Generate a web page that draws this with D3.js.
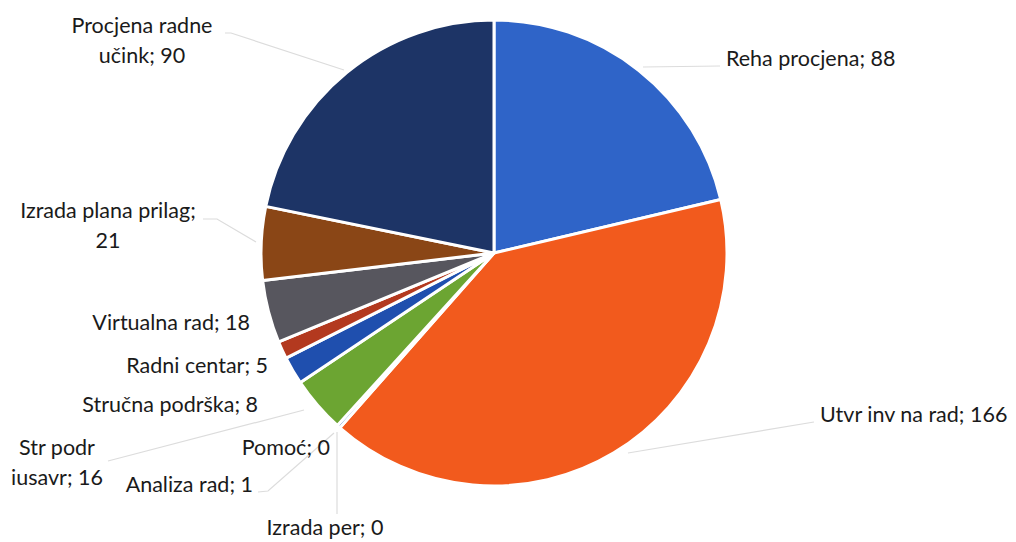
<!DOCTYPE html>
<html>
<head>
<meta charset="utf-8">
<script src="https://cdn.jsdelivr.net/npm/d3@7"></script>
<style>
  html, body { margin: 0; padding: 0; background: #ffffff; }
  svg { display: block; }
  text { font-family: Lato, "Open Sans", sans-serif; font-size: 21.5px; fill: #1a1a1a; }
</style>
</head>
<body>
<svg id="chart" width="1016" height="542"></svg>
<script>
// Data (clockwise from 12 o'clock)
const categories = ["Reha procjena", "Utvr inv na rad", "Izrada per", "Pomoć", "Analiza rad",
  "Str podr iusavr", "Stručna podrška", "Radni centar", "Virtualna rad", "Izrada plana prilag", "Procjena radne učink"];
const values = [88, 166, 0, 0, 1, 16, 8, 5, 18, 21, 90];
const labelLines = [
  ["Reha procjena; 88"],
  ["Utvr inv na rad; 166"],
  ["Izrada per; 0"],
  ["Pomoć; 0"],
  ["Analiza rad; 1"],
  ["Str podr", "iusavr; 16"],
  ["Stručna podrška; 8"],
  ["Radni centar; 5"],
  ["Virtualna rad; 18"],
  ["Izrada plana prilag;", "21"],
  ["Procjena radne", "učink; 90"]
];
const colors = ["#2f64c8", "#f25a1d", "#a5a5a5", "#ffc000", "#4472c4",
  "#6ca532", "#1f4fae", "#b3391f", "#57565e", "#8a4616", "#1d3466"];

// Label layout (presentation only)
const layout = [
  {x: 726, y: 66, anchor: "start", leader: [[720, 66], [643, 67]]},
  {x: 820, y: 422, anchor: "start", leader: [[814, 422], [628, 453]]},
  {x: 325, y: 535, anchor: "middle", leader: [[337, 514], [337, 432]]},
  {x: 330, y: 455, anchor: "end", leader: null},
  {x: 253, y: 492, anchor: "end", leader: [[258, 492], [268, 491], [334, 433]]},
  {x: 57, y: 455, anchor: "middle", leader: [[108, 461], [304, 410]]},
  {x: 258, y: 412, anchor: "end", leader: null},
  {x: 268, y: 373, anchor: "end", leader: null},
  {x: 250, y: 330, anchor: "end", leader: null},
  {x: 108, y: 218, anchor: "middle", leader: [[203, 219], [217, 219], [256, 242]]},
  {x: 142, y: 33, anchor: "middle", leader: [[225, 33], [231, 33], [344, 70]]}
];

const svg = d3.select("#chart");
const cx = 494, cy = 253, r = 233;
const g = svg.append("g").attr("transform", `translate(${cx},${cy})`);

const pie = d3.pie().sort(null).value(d => d)(values);
const arc = d3.arc().innerRadius(0).outerRadius(r);

g.selectAll("path.slice")
  .data(pie)
  .join("path")
  .attr("class", "slice")
  .attr("d", arc)
  .attr("fill", (d, i) => colors[i])
  .attr("stroke", "#ffffff")
  .attr("stroke-width", d => d.value > 0 ? 3 : 0)
  .attr("stroke-linejoin", "round");

// leader lines
const line = d3.line();
svg.append("g").selectAll("path.leader")
  .data(layout.filter(l => l.leader))
  .join("path")
  .attr("class", "leader")
  .attr("d", l => line(l.leader))
  .attr("fill", "none")
  .attr("stroke", "#dcdcdc")
  .attr("stroke-width", 1.2);

// labels
const lineH = 30;
const labels = svg.append("g").selectAll("text.lbl")
  .data(pie)
  .join("text")
  .attr("class", "lbl")
  .attr("text-anchor", (d, i) => layout[i].anchor)
  .attr("x", (d, i) => layout[i].x)
  .attr("y", (d, i) => layout[i].y);
labels.each(function(d, i) {
  const t = d3.select(this);
  labelLines[i].forEach((s, k) => {
    t.append("tspan").attr("x", layout[i].x).attr("dy", k === 0 ? 0 : lineH).text(s);
  });
});
</script>
</body>
</html>
